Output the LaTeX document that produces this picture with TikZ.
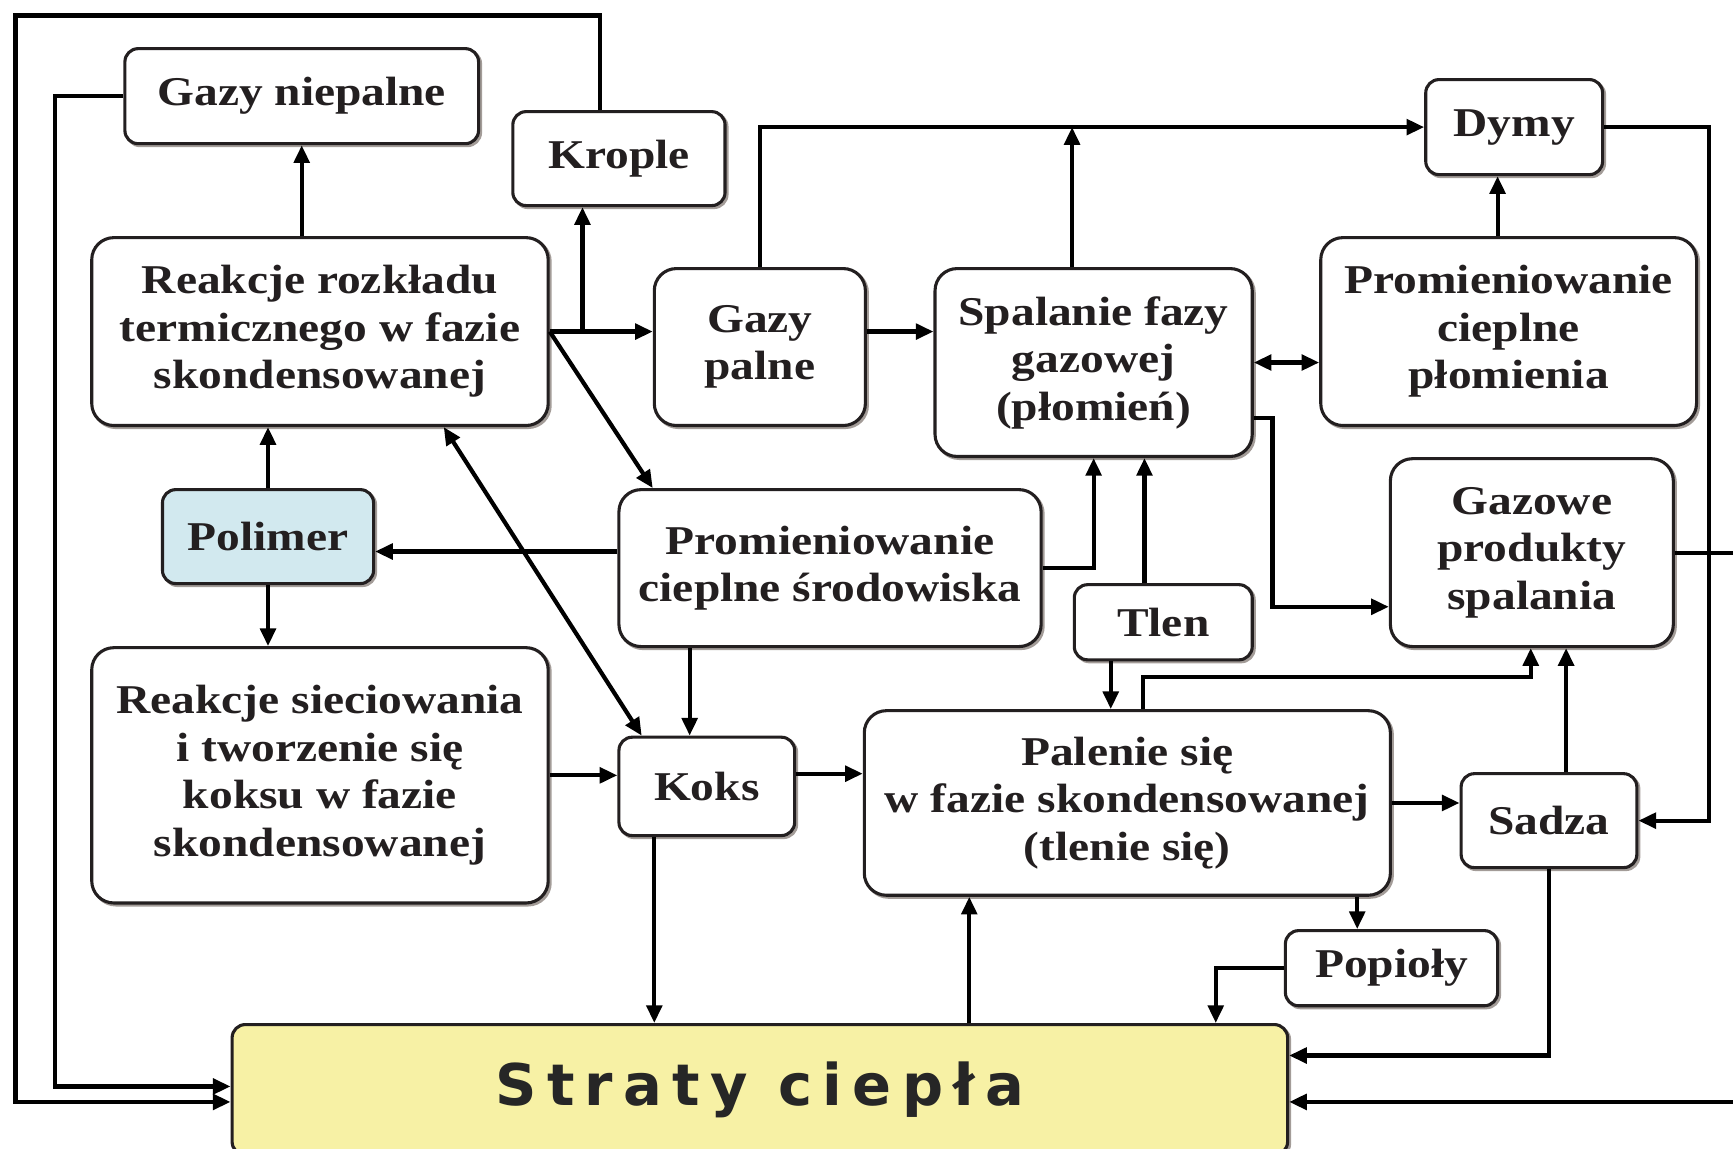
\documentclass[tikz,border=0pt]{standalone}
\usepackage{fontspec}
\setmainfont[FakeStretch=1.16]{Liberation Serif}
\newfontfamily\stfont[LetterSpace=18]{DejaVu Sans}
\usetikzlibrary{arrows.meta,calc}
\definecolor{boxc}{HTML}{231F20}
\definecolor{txtc}{HTML}{231F20}
\definecolor{shdc}{HTML}{A39C98}
\definecolor{polc}{HTML}{D2E9EF}
\definecolor{strc}{HTML}{F7F1A5}
\begin{document}
\begin{tikzpicture}[x=0.5pt,y=-0.5pt,
  shd/.style={preaction={draw=shdc, transform canvas={xshift=0.9pt,yshift=-0.9pt}}},
  box/.style={draw=boxc, line width=1.4pt, rounded corners=6pt, fill=white, align=center,
    inner sep=0pt, font=\fontsize{18.5}{21.5}\selectfont\bfseries, text=txtc, shd},
  big/.style={box, rounded corners=10pt},
  tip/.tip={Triangle[length=8pt,width=7pt]},
  arr/.style={draw=black, line width=1.9pt, -tip},
  darr/.style={arr, tip-tip},
]
\useasboundingbox (0,0) rectangle (1568,1039);

% nodes
\node[box, minimum width=160pt, minimum height=43pt] (gn) at (273,87) {Gazy niepalne};
\node[box, minimum width=96pt, minimum height=42.5pt] (kr) at (560,143.5) {Krople};
\node[big, minimum width=206.5pt, minimum height=85pt] (rr) at (289.5,300) {Reakcje rozkładu\\termicznego w fazie\\skondensowanej};
\node[big, minimum width=95.5pt, minimum height=71pt] (gp) at (687.5,314) {Gazy\\palne};
\node[big, minimum width=143.5pt, minimum height=85pt] (sf) at (989.5,328) {Spalanie fazy\\gazowej\\(płomień)};
\node[box, minimum width=80pt, minimum height=43pt] (dy) at (1370,115) {Dymy};
\node[big, minimum width=170pt, minimum height=85pt] (pp) at (1365,300) {Promieniowanie\\cieplne\\płomienia};
\node[box, fill=polc, minimum width=95.5pt, minimum height=42.5pt] (po) at (242.5,485.5) {Polimer};
\node[big, minimum width=191pt, minimum height=71pt] (ps) at (751,514) {Promieniowanie\\cieplne środowiska};
\node[box, minimum width=80.5pt, minimum height=34pt] (tl) at (1052.5,563) {Tlen};
\node[big, minimum width=128pt, minimum height=85pt] (gz) at (1386,500) {Gazowe\\produkty\\spalania};
\node[big, minimum width=206.5pt, minimum height=115.5pt] (rs) at (289.5,701.5) {Reakcje sieciowania\\i tworzenie się\\koksu w fazie\\skondensowanej};
\node[box, minimum width=79.5pt, minimum height=44.5pt] (ko) at (639.5,711.5) {Koks};
\node[big, minimum width=238pt, minimum height=83.5pt] (pa) at (1020,726.5) {Palenie się\\w fazie skondensowanej\\(tlenie się)};
\node[box, minimum width=79.5pt, minimum height=42.5pt] (sa) at (1401.5,742.5) {Sadza};
\node[box, minimum width=96pt, minimum height=34pt] (pl) at (1259,876) {Popioły};
\node[box, fill=strc, minimum width=477.5pt, minimum height=59pt, font=\stfont\bfseries\fontsize{26}{30}\selectfont, text=black!85] (st) at (687.5,986) {Straty ciepła};

% helper coordinates
\coordinate (kt) at ([xshift=-8.5pt]kr.north);
\coordinate (kb) at ([xshift=-16.5pt]kr.south);
\coordinate (stA) at ([yshift=-5.5pt]st.west);
\coordinate (stB) at ([yshift=1.5pt]st.west);
\coordinate (psw) at ([yshift=7.5pt]ps.west);
\coordinate (tA) at ([xshift=23pt]sf.south);
\coordinate (kA) at ([xshift=-7.75pt]ko.north);
\coordinate (kB) at ([yshift=5.75pt]ko.east);
\coordinate (kC) at ([xshift=-23.75pt]ko.south);
\coordinate (gA) at ([yshift=7pt]gp.east);
\coordinate (sA) at ([xshift=-9.75pt]sf.north);
\coordinate (sB) at ([yshift=-25pt]sf.east);
\coordinate (gB) at ([yshift=-24.5pt]gz.west);
\coordinate (stC) at ([yshift=-5.5pt]st.east);
\coordinate (stD) at ([yshift=15.5pt]st.east);
\coordinate (tB) at ([xshift=-23.75pt]tl.south);
\coordinate (sC) at ([xshift=7.75pt]sa.north);
\coordinate (pA) at ([xshift=-15.5pt]pl.north);
\coordinate (pB) at ([xshift=206.25pt]st.north);
\coordinate (pC) at ([xshift=94.75pt]st.north);
\coordinate (pD) at ([xshift=-5pt]pp.north);

% connectors
\draw[arr] (kt) |- (14,14) |- (stA);
\draw[arr] (gn.west) -| (50,983) -- (stB);
\draw[arr] (rr.north -| gn.south) -- (gn.south);
\draw[arr] (rr.east) -- (rr.east -| gp.west);
\draw[arr] (kb |- rr.east) -- (kb);
\draw[arr] (rr.east) -- ([xshift=16pt]ps.north west);
\draw[darr] ([xshift=56pt]rr.south) -- ([xshift=11pt]ko.north west);
\draw[arr] (po.north) -- (po.north |- rr.south);
\draw[arr] (po.south) -- (po.south |- rs.north);
\draw[arr] (psw) -- (psw -| po.east);
\draw[arr] (ps.east) -| (sf.south);
\draw[arr] (tA |- tl.north) -- (tA);
\draw[arr] (kA |- ps.south) -- (kA);
\draw[arr] (rs.east) -- (rs.east -| ko.west);
\draw[arr] (kB) -- (kB -| pa.west);
\draw[arr] (kC) -- (kC |- st.north);
\draw[arr] (gA) -- (gA -| sf.west);
\draw[arr] (gp.north) |- (dy.west);
\draw[arr] (sA) -- (sA |- dy.west);
\draw[darr] (sf.east) -- (sf.east -| pp.west);
\draw[arr] (sB) -- ++(17,0) |- (gB);
\draw[arr] (pD) -- (pD |- dy.south);
\draw[arr] (dy.east) -- ++(95,0) |- (sa.east);
\draw[arr] (gz.east) -- ++(100,0) |- (stC);
\draw[arr] (tB) -- (tB |- pa.north);
\draw[arr] ([xshift=7pt]pa.north) -- ++(0,-29) -| ([xshift=-0.5pt]gz.south);
\draw[arr] (sC) -- (sC |- gz.south);
\draw[arr] (pa.east) -- (pa.east -| sa.west);
\draw[arr] (pA |- pa.south) -- (pA);
\draw[arr] (pl.west) -| (pB);
\draw[arr] (pC) -- (pC |- pa.south);
\draw[arr] (sa.south) |- (stD);
\end{tikzpicture}
\end{document}
